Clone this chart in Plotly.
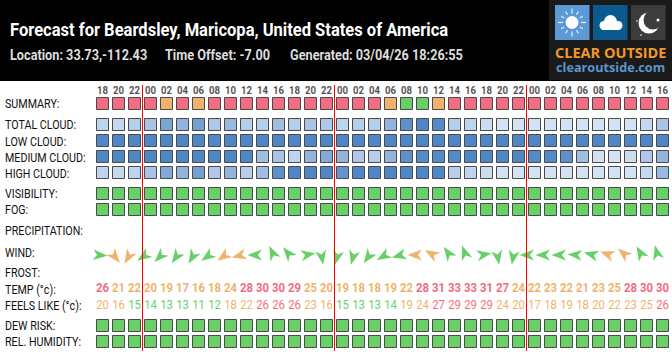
import math
import plotly.graph_objects as go

FONT = "Roboto"
LOGO_FONT = "Open Sans"
W, H = 672, 352

hours = ["18","20","22","00","02","04","06","08","10","12","14","16","18","20","22",
         "00","02","04","06","08","10","12","14","16","18","20","22",
         "00","02","04","06","08","10","12","14","16"]
# 0 good, 1 fair, 2 poor
summary = [2,2,2,2,1,2,1,2,2,2,2,2,2,2,2, 2,2,2,1,0,0,1,2,2,2,2,2, 2,2,2,2,2,2,2,2,2]
total_cloud = [25,20,30,40,70,55,75,35,50,30,30,45,30,40,35,
               25,30,30,55,90,100,95,30,25,15,10,10,
               10,10,10,10,10,10,10,20,40]
low_cloud = [98,100,100,100,100,100,100,98,100,100,100,100,100,100,100,
             100,100,100,100,100,100,100,100,100,100,100,100,
             100,100,100,100,100,100,100,100,100]
medium_cloud = [100,100,100,100,100,100,100,100,100,100,45,40,25,55,65,
                55,35,30,55,90,95,95,95,100,100,100,100,
                95,95,90,45,12,10,15,35,55]
high_cloud = [25,20,25,40,65,55,75,35,55,30,45,90,100,100,100,
              85,100,100,100,100,100,100,30,25,15,10,10,
              10,10,10,10,10,10,10,20,50]
visibility = [0]*36
fog = [0]*36
dew_risk = [0]*36
humidity = [0]*36
wind_dir = [95,140,210,235,225,215,210,235,235,255,270,335,320,80,170,
            195,195,215,240,255,270,300,325,340,80,170,190,
            270,270,270,275,285,290,310,330,345]
wind_level = [0,1,1,0,0,0,0,0,1,1,0,0,0,0,0,
              0,0,0,0,0,1,1,0,0,0,0,0,
              0,0,0,0,0,1,1,0,0]
temp = [26,21,22,20,19,17,16,18,24,28,30,30,29,25,20,
        19,18,18,19,22,28,31,33,33,31,27,24,
        22,23,22,21,23,25,28,30,30]
feels = [20,16,15,14,13,13,11,12,18,22,26,26,26,23,16,
         15,13,13,14,19,24,27,29,29,29,24,20,
         17,18,19,18,20,22,23,25,26]
row_labels = ["SUMMARY:","TOTAL CLOUD:","LOW CLOUD:","MEDIUM CLOUD:","HIGH CLOUD:","VISIBILITY:","FOG:",
              "PRECIPITATION:","WIND:","FROST:","TEMP (°c):","FEELS LIKE (°c):","DEW RISK:","REL. HUMIDITY:"]

# layout (pixel rows, axis y runs 0..352 downward)
label_y = [104,125.5,141.5,157.5,173.5,194,210,231,252.5,273,289.5,305.5,326,342]
Y = dict(hours=91, summary=103.5, total=124.5, low=140.5, medium=156.5, high=172.5,
         vis=193.5, fog=209.5, wind=255, temp=289, feels=305.5, dew=325.5, hum=341.5)
RED, AMBER, GREEN = "#f26d7f", "#f0b36e", "#67d168"
LEVEL = [GREEN, AMBER, RED]
BORDER = "#4a4a4a"
CLOUD_SCALE = [[0, "#e3ecf8"], [1, "#4f86c6"]]

xs = list(range(len(hours)))
fig = go.Figure()

def level_row(vals, y):
    fig.add_trace(go.Scatter(x=xs, y=[y]*len(xs), mode="markers", hoverinfo="skip",
        marker=dict(symbol="square", size=12, color=[LEVEL[v] for v in vals],
                    line=dict(color=BORDER, width=1))))

def cloud_row(vals, y):
    fig.add_trace(go.Scatter(x=xs, y=[y]*len(xs), mode="markers", hoverinfo="skip",
        marker=dict(symbol="square", size=12, color=vals, cmin=0, cmax=100,
                    colorscale=CLOUD_SCALE, showscale=False,
                    line=dict(color=BORDER, width=1))))

level_row(summary, Y["summary"])
cloud_row(total_cloud, Y["total"])
cloud_row(low_cloud, Y["low"])
cloud_row(medium_cloud, Y["medium"])
cloud_row(high_cloud, Y["high"])
level_row(visibility, Y["vis"])
level_row(fog, Y["fog"])
level_row(dew_risk, Y["dew"])
level_row(humidity, Y["hum"])

def text_row(vals, y, colors, size, weight):
    fig.add_trace(go.Scatter(x=xs, y=[y]*len(xs), mode="text", text=[str(v) for v in vals],
        textposition="middle center", hoverinfo="skip",
        textfont=dict(family=FONT, size=size, color=colors, weight=weight)))

text_row(hours, Y["hours"], "#555555", 11, 700)
text_row(temp, Y["temp"], [RED if t >= 26 else AMBER for t in temp], 13, 700)
text_row(feels, Y["feels"], [RED if t >= 26 else AMBER if t >= 16 else GREEN for t in feels], 13, 400)

def px(v): return v / W
def py(v): return 1 - v / H

shapes = []
def rect(x0, y0, x1, y1, c):
    shapes.append(dict(type="rect", xref="paper", yref="paper", x0=px(x0), x1=px(x1), y0=py(y0), y1=py(y1),
                       fillcolor=c, line=dict(width=0), layer="below"))
def circ(cx, cy, r, c, ry=None):
    ry = ry or r
    shapes.append(dict(type="circle", xref="paper", yref="paper", x0=px(cx-r), x1=px(cx+r), y0=py(cy-ry), y1=py(cy+ry),
                       fillcolor=c, line=dict(width=0), layer="below"))
def seg(x0, y0, x1, y1, c, w):
    shapes.append(dict(type="line", xref="paper", yref="paper", x0=px(x0), x1=px(x1), y0=py(y0), y1=py(y1),
                       line=dict(color=c, width=w), layer="below"))

# header + logo
rect(0, 0, W, 81, "#000000")
rect(549, 0, W, 80, "#1a1a1a")
rect(555, 5, 589.5, 40, "#5b9ad6")
rect(593, 5, 627.5, 40, "#0a5a90")
rect(631, 5, 665.5, 40, "#3c3c3c")
for k in range(12):
    a = k * math.pi / 6
    r0, r1 = (9, 14) if k % 3 == 0 else (9, 12.5)
    seg(572+r0*math.sin(a), 22.5-r0*math.cos(a), 572+r1*math.sin(a), 22.5-r1*math.cos(a), "#e8f2fb", 1.2)
circ(572, 22.5, 6.5, "#ffffff")
circ(604, 25.5, 4.5, "#ffffff"); circ(610.5, 21.5, 6.5, "#ffffff"); circ(618, 25.5, 4.5, "#ffffff")
rect(602, 25, 619, 30, "#ffffff")
circ(649, 23, 10.5, "#ffffff")
circ(653, 20, 9.5, "#3c3c3c")
circ(658, 20, 1.5, "#ffffff"); circ(637, 21, 0.8, "#ffffff"); circ(641, 35, 0.8, "#ffffff")

# wind arrows
for i, (d, l) in enumerate(zip(wind_dir, wind_level)):
    a = math.radians(d)
    sa, ca = math.sin(a), math.cos(a)
    tmpl = [(0, 10), (5.5, -4.5), (0, -0.5), (-5.5, -4.5)]
    pts = [(-5 + u*ca + v*sa, u*(-sa) + v*ca) for u, v in tmpl]
    path = "M" + " L".join(f"{p[0]:.2f},{p[1]:.2f}" for p in pts) + " Z"
    shapes.append(dict(type="path", xref="x", yref="y", xsizemode="pixel", ysizemode="pixel",
                       xanchor=i, yanchor=Y["wind"], path=path,
                       fillcolor=LEVEL[l], line=dict(width=0), layer="above"))

# midnight lines
for i, h in enumerate(hours):
    if h == "00":
        shapes.append(dict(type="line", xref="x", yref="y", x0=i-0.5, x1=i-0.5, y0=85, y1=351,
                           line=dict(color="#ff0000", width=1), layer="above"))

ann = []
def note(x, y, s, size, color, weight=400, anchor="left", family=FONT):
    ann.append(dict(xref="paper", yref="paper", x=px(x), y=py(y), text=s, showarrow=False,
                    xanchor=anchor, yanchor="middle", align="left",
                    font=dict(family=family, size=size, color=color, weight=weight), borderpad=0, borderwidth=0))

note(10, 29, "Forecast for Beardsley, Maricopa, United States of America", 19, "#ffffff", 700)
note(10, 55, "Location: 33.73,-112.43", 14.6, "#dddddd", 700)
note(165, 55, "Time Offset: -7.00", 14.6, "#dddddd", 700)
note(290, 55, "Generated: 03/04/26 18:26:55", 14.6, "#dddddd", 700)
note(610, 52.5, "CLEAR OUTSIDE", 14.5, "#f0982c", 700, "center", LOGO_FONT)
note(610.5, 67, "clearoutside.com", 12.7, "#5b96cc", 700, "center", LOGO_FONT)
for s, y in zip(row_labels, label_y):
    note(5, y, s, 12.3, "#111111")

fig.update_layout(
    width=W, height=H, margin=dict(l=0, r=0, t=0, b=0),
    paper_bgcolor="#ffffff", plot_bgcolor="rgba(0,0,0,0)", showlegend=False,
    xaxis=dict(range=[(0-102.5)/16, (W-102.5)/16], visible=False, fixedrange=True),
    yaxis=dict(range=[H, 0], visible=False, fixedrange=True),
    shapes=shapes, annotations=ann,
)
# narrow the Roboto glyphs so they read as the condensed face of the reference
post = """
document.body.style.margin='0';document.body.style.overflow='hidden';
function squeeze(){document.querySelectorAll('svg text').forEach(function(t){
  if((t.style.fontFamily||'').indexOf('Roboto')<0) return;
  var l=t.getComputedTextLength(); if(!l) return;
  t.setAttribute('lengthAdjust','spacingAndGlyphs');
  t.setAttribute('textLength',(l*0.87).toFixed(2));
});}
document.fonts.ready.then(squeeze);
"""
fig.write_html("out.html", config=dict(displayModeBar=False), post_script=post)
